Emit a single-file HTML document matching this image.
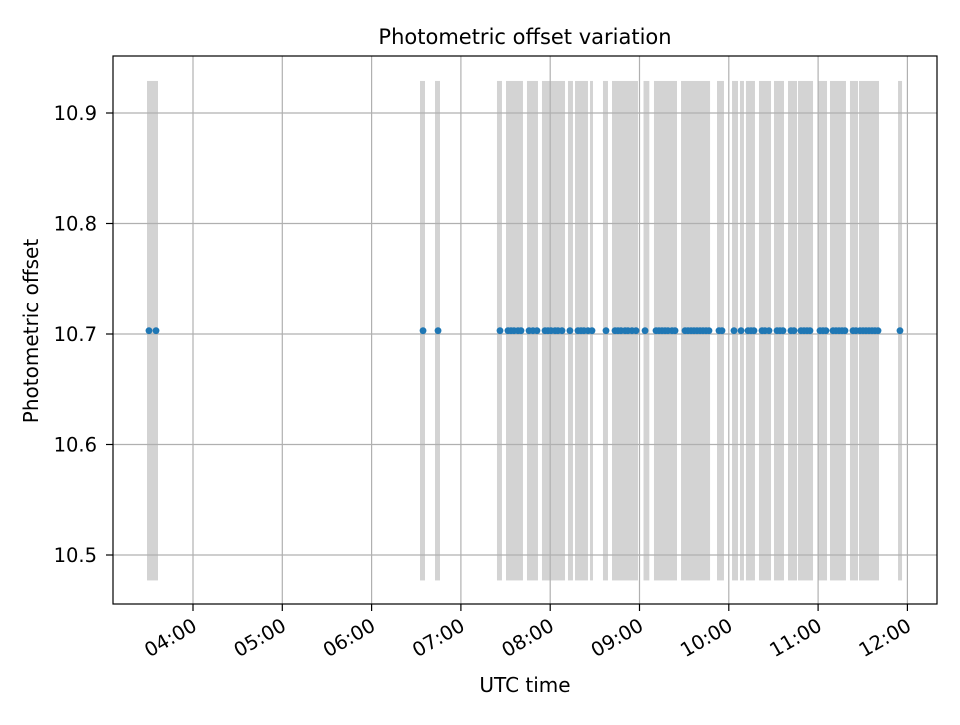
<!DOCTYPE html>
<html><head><meta charset="utf-8"><style>
body{margin:0;background:#fff;}
svg text{font-family:"DejaVu Sans","Liberation Sans",sans-serif;fill:#000;}
</style></head><body>
<svg id="chart" width="960" height="720" xmlns="http://www.w3.org/2000/svg">
<rect width="960" height="720" fill="#fff"/>
<text x="525" y="44" font-size="21" text-anchor="middle">Photometric offset variation</text>
<g id="spans"></g><g id="grid"></g><g id="pts"></g><g id="ticks"></g>
<rect x="113" y="56" width="824" height="548" fill="none" stroke="#000" stroke-width="1.2"/>
<text x="525" y="692" font-size="20" text-anchor="middle">UTC time</text>
<text transform="translate(38,331) rotate(-90)" font-size="20" text-anchor="middle">Photometric offset</text>
</svg>
<script>
const spanStart=[3.485,6.542,6.710,7.404,7.505,7.740,7.908,8.199,8.278,8.446,8.591,8.692,9.045,9.162,9.465,9.868,10.036,10.125,10.192,10.338,10.506,10.663,10.775,10.999,11.133,11.357,11.458,11.895];
const spanEnd=[3.608,6.598,6.766,7.460,7.695,7.863,8.166,8.255,8.423,8.479,8.647,8.983,9.110,9.420,9.790,9.946,10.103,10.170,10.293,10.473,10.618,10.764,10.943,11.100,11.312,11.447,11.682,11.940];
const spanLow=10.477, spanHigh=10.929;
const times=[3.507,3.586,6.576,6.744,7.438,7.527,7.561,7.595,7.639,7.673,7.763,7.807,7.852,7.942,7.975,8.009,8.054,8.087,8.132,8.221,8.311,8.345,8.378,8.423,8.468,8.625,8.726,8.759,8.793,8.838,8.871,8.916,8.961,9.062,9.185,9.218,9.252,9.286,9.319,9.364,9.398,9.510,9.543,9.577,9.610,9.644,9.678,9.711,9.745,9.778,9.890,9.924,10.058,10.137,10.215,10.249,10.282,10.372,10.405,10.450,10.540,10.573,10.607,10.696,10.730,10.808,10.842,10.876,10.909,11.021,11.055,11.088,11.167,11.200,11.234,11.268,11.301,11.391,11.424,11.469,11.503,11.536,11.570,11.604,11.637,11.671,11.917];
const offsets=times.map(()=>10.703);
const xTicks=[4,5,6,7,8,9,10,11,12];
const xTickLabels=["04:00","05:00","06:00","07:00","08:00","09:00","10:00","11:00","12:00"];
const yTicks=[10.5,10.6,10.7,10.8,10.9];
const yTickLabels=["10.5","10.6","10.7","10.8","10.9"];
const NS="http://www.w3.org/2000/svg";
const X=h=>193+(h-4)*89.3;
const Y=v=>113+(10.9-v)*1105;
function mk(tag,attrs,parent){const e=document.createElementNS(NS,tag);for(const k in attrs)e.setAttribute(k,attrs[k]);document.getElementById(parent).appendChild(e);return e;}
spanStart.forEach((s,i)=>{
 const r=mk('rect',{x:X(s),y:Y(spanHigh),width:Math.max(1,X(spanEnd[i])-X(s)),height:Y(spanLow)-Y(spanHigh),fill:'#d3d3d3'},'spans');
 
 
});
xTicks.forEach((t,i)=>{
 const x=X(t);
 const g=mk('line',{x1:x,x2:x,y1:56,y2:604,stroke:'#b0b0b0','stroke-width':1.2},'grid');
 
 
 mk('line',{x1:x,x2:x,y1:604,y2:611,stroke:'#000','stroke-width':1.2},'ticks');
 const ax=x-2, ay=617;
 const tx=mk('text',{x:ax,y:ay,'font-size':19.5,'text-anchor':'end','dominant-baseline':'hanging',transform:`rotate(-30 ${ax} ${ay})`},'ticks');
 tx.textContent=xTickLabels[i];
 
 
});
yTicks.forEach((t,i)=>{
 const y=Y(t);
 const g=mk('line',{x1:113,x2:937,y1:y,y2:y,stroke:'#b0b0b0','stroke-width':1.2},'grid');
 
 
 mk('line',{x1:106,x2:113,y1:y,y2:y,stroke:'#000','stroke-width':1.2},'ticks');
 const tx=mk('text',{x:97,y:y+7,'font-size':19.5,'text-anchor':'end'},'ticks');
 tx.textContent=yTickLabels[i];
 
 
});
times.forEach((t,i)=>{
 const c=mk('circle',{cx:X(t),cy:Y(offsets[i]),r:3.4,fill:'#1f77b4'},'pts');
 
 
});
</script>
</body></html>
